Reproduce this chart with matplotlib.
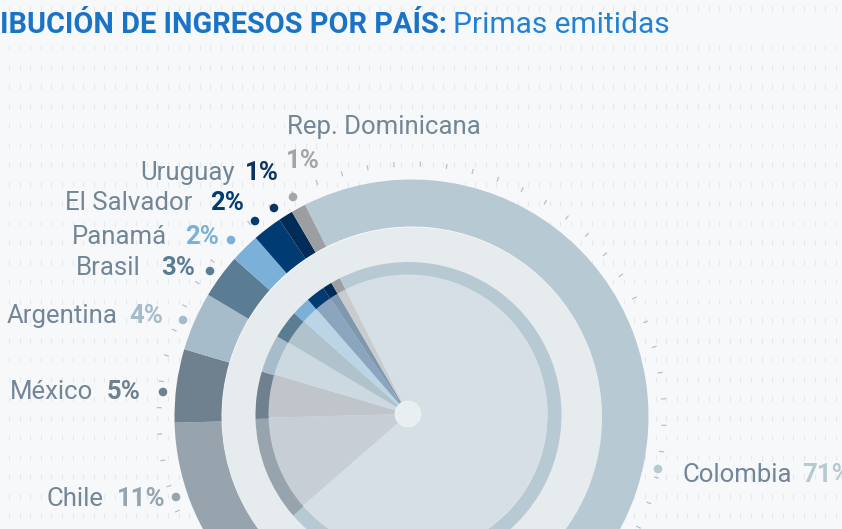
import numpy as np
import matplotlib.pyplot as plt
from matplotlib.patches import Circle
from matplotlib.collections import LineCollection

W, H = 842, 529

# data
paises = ["Colombia", "Chile", "México", "Argentina", "Brasil",
          "Panamá", "El Salvador", "Uruguay", "Rep. Dominicana"]
participacion = [71, 11, 5, 4, 3, 2, 2, 1, 1]
colores = ["#b7c9d3", "#97a4ae", "#6f818f", "#a6bccb", "#5a7d93",
           "#7bb0d8", "#003b71", "#002c57", "#9c9fa1"]
colores_pie = ["#d5dfe5", "#c8ced5", "#bfc5cb", "#cdd9e0", "#b0c3cc",
               "#bcd5e6", "#8aa5bd", "#7f98ad", "#c9cccd"]
color_pct = ["#b7c9d3", "#97a4ae", "#6f818f", "#a6bccb", "#5a7d93",
             "#7bb0d8", "#003b71", "#0d3460", "#a3a6a8"]

# label layout (pixels from top-left): name x, name align, pct x, text y, dot x, dot y
etiquetas = {
    "Colombia":        (682, "left", 802, 473, 658, 469),
    "Chile":           (103, "right", 117, 497, 176, 497),
    "México":          (93, "right", 107, 390, 163, 392),
    "Argentina":       (118, "right", 129, 314, 183, 320),
    "Brasil":          (141, "right", 161, 266, 210, 271),
    "Panamá":          (167, "right", 185, 235, 231, 240),
    "El Salvador":     (192, "right", 210, 201, 255, 221),
    "Uruguay":         (235, "right", 245, 171, 274, 208),
    "Rep. Dominicana": (287, "left", 286, 159, 293, 197),
}
name_y = {"Rep. Dominicana": 125}

def Y(y):
    return H - y

fig = plt.figure(figsize=(W / 100, H / 100), dpi=100)
fig.patch.set_facecolor("#f6f8f9")
ax = fig.add_axes([0, 0, 1, 1])
ax.set_facecolor("#f6f8f9")

# faint background pattern
segs = []
for gy in 8.8 + 19.5 * np.arange(28):
    if 15 < gy < 40:
        continue
    for gx in 8.9 + 10.6 * np.arange(80):
        segs.append([(gx, Y(gy - 2.5)), (gx, Y(gy + 2.5))])
ax.add_collection(LineCollection(segs, colors="#e5e9ec", linewidths=0.8, zorder=0))

# radial ticks around the ring
cx, cy = 411.5, Y(416.5)
ang = np.deg2rad(90 - (2 + 6 * np.arange(60)))
ticks = [[(cx + 250 * np.cos(a), cy + 250 * np.sin(a)),
          (cx + 255 * np.cos(a), cy + 255 * np.sin(a))] for a in ang]
ax.add_collection(LineCollection(ticks, colors="#b3c1cd", linewidths=0.9, zorder=1))

start = 116.7
# outer ring
ax.pie(participacion, colors=colores, startangle=start, counterclock=False,
       radius=237, center=(cx, cy), frame=True,
       wedgeprops=dict(width=47, linewidth=0))
# light band
ax.add_patch(Circle((cx + 0.5, cy - 1), 190, color="#e6ebee", zorder=2, lw=0))
# inner thin ring and pie
ax.pie(participacion, colors=colores, startangle=start, counterclock=False,
       radius=153, center=(408.5, Y(415)), frame=True,
       wedgeprops=dict(width=14, linewidth=0, zorder=3))
ax.pie(participacion, colors=colores_pie, startangle=start, counterclock=False,
       radius=139.5, center=(408, Y(414)), frame=True,
       wedgeprops=dict(linewidth=0, zorder=3))
ax.add_patch(Circle((408, Y(414)), 13.5, color="#e9eef1", zorder=4, lw=0))

ax.set_xlim(0, W)
ax.set_ylim(0, H)
ax.set_aspect("auto")
ax.axis("off")

# labels
fs = 18.5
name_color = "#738698"
for pais, p, cp in zip(paises, participacion, color_pct):
    nx, nha, xp, ty, dx, dy = etiquetas[pais]
    ny = name_y.get(pais, ty)
    ax.text(nx, Y(ny + 9), pais, fontsize=fs, family="Roboto", color=name_color,
            va="baseline", ha=nha)
    ax.text(xp, Y(ty + 9), f"{p}%", fontsize=fs, family="Roboto", fontweight="bold",
            color=cp, va="baseline", ha="left")
    ax.add_patch(Circle((dx, Y(dy)), 4.3, color=cp, lw=0, zorder=5))

# title (cut at the left edge like the original)
t1 = ax.text(0, Y(33), "IBUCIÓN DE INGRESOS POR PAÍS:", fontsize=21, fontweight="bold",
             family="Roboto", color="#1b73c6", va="baseline", ha="left")
t2 = ax.text(453, Y(33), "Primas emitidas", fontsize=21, family="Roboto",
             color="#2282d5", va="baseline", ha="left")

# fit the title pieces to the widths seen in the original
fig.canvas.draw()
r = fig.canvas.get_renderer()
t1.set_fontsize(t1.get_fontsize() * 445 / t1.get_window_extent(r).width)
t2.set_fontsize(t2.get_fontsize() * 216 / t2.get_window_extent(r).width)

fig.savefig("out.png", dpi=100, facecolor=fig.get_facecolor())
